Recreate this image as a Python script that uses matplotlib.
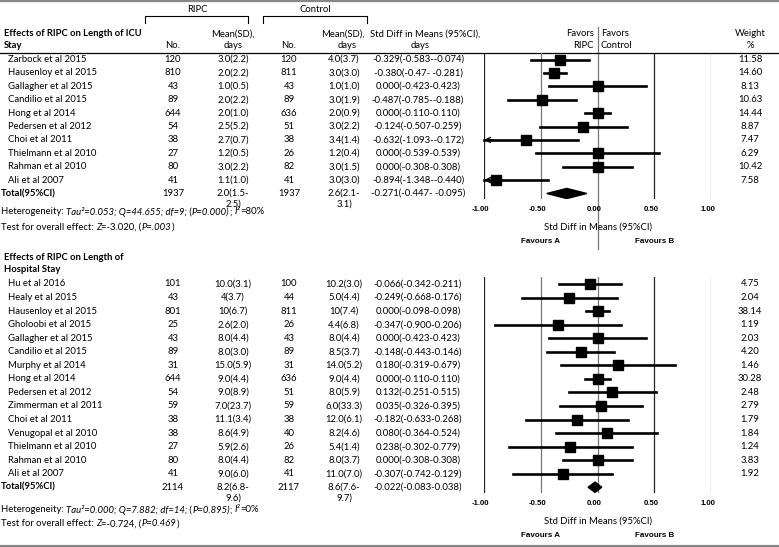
import numpy as np
import matplotlib
matplotlib.use("Agg")
import matplotlib.pyplot as plt
import matplotlib.transforms as mtransforms
from matplotlib import font_manager
from matplotlib.patches import Polygon

# ---- ICU stay ----
icu_study = ["Zarbock et al 2015", "Hausenloy et al 2015", "Gallagher et al 2015",
             "Candilio et al 2015", "Hong et al 2014", "Pedersen et al 2012",
             "Choi et al 2011", "Thielmann et al 2010", "Rahman et al 2010", "Ali et al 2007"]
icu_ripc_n = ["120", "810", "43", "89", "644", "54", "38", "27", "80", "41", "1937"]
icu_ripc_mean = ["3.0(2.2)", "2.0(2.2)", "1.0(0.5)", "2.0(2.2)", "2.0(1.0)", "2.5(5.2)",
                 "2.7(0.7)", "1.2(0.5)", "3.0(2.2)", "1.1(1.0)", "2.0(1.5-\n2.5)"]
icu_ctrl_n = ["120", "811", "43", "89", "636", "51", "38", "26", "82", "41", "1937"]
icu_ctrl_mean = ["4.0(3.7)", "3.0(3.0)", "1.0(1.0)", "3.0(1.9)", "2.0(0.9)", "3.0(2.2)",
                 "3.4(1.4)", "1.2(0.4)", "3.0(1.5)", "3.0(3.0)", "2.6(2.1-\n3.1)"]
icu_ci_txt = ["-0.329(-0.583--0.074)", "-0.380(-0.47- -0.281)", "0.000(-0.423-0.423)",
              "-0.487(-0.785--0.188)", "0.000(-0.110-0.110)", "-0.124(-0.507-0.259)",
              "-0.632(-1.093--0.172)", "0.000(-0.539-0.539)", "0.000(-0.308-0.308)",
              "-0.894(-1.348--0.440)", "-0.271(-0.447- -0.095)"]
icu_weight = ["11.58", "14.60", "8.13", "10.63", "14.44", "8.87", "7.47", "6.29", "10.42", "7.58"]
icu_est = [-0.329, -0.380, 0.0, -0.487, 0.0, -0.124, -0.632, 0.0, 0.0, -0.894]
icu_lo = [-0.583, -0.47, -0.423, -0.785, -0.110, -0.507, -1.093, -0.539, -0.308, -1.348]
icu_hi = [-0.074, -0.281, 0.423, -0.188, 0.110, 0.259, -0.172, 0.539, 0.308, -0.440]
icu_total = (-0.271, -0.447, -0.095)

# ---- Hospital stay ----
hos_study = ["Hu et al 2016", "Healy et al 2015", "Hausenloy et al 2015", "Gholoobi et al 2015",
             "Gallagher et al 2015", "Candilio et al 2015", "Murphy et al 2014", "Hong et al 2014",
             "Pedersen et al 2012", "Zimmerman et al 2011", "Choi et al 2011",
             "Venugopal et al 2010", "Thielmann et al 2010", "Rahman et al 2010", "Ali et al 2007"]
hos_ripc_n = ["101", "43", "801", "25", "43", "89", "31", "644", "54", "59", "38", "38", "27",
              "80", "41", "2114"]
hos_ripc_mean = ["10.0(3.1)", "4(3.7)", "10(6.7)", "2.6(2.0)", "8.0(4.4)", "8.0(3.0)",
                 "15.0(5.9)", "9.0(4.4)", "9.0(8.9)", "7.0(23.7)", "11.1(3.4)", "8.6(4.9)",
                 "5.9(2.6)", "8.0(4.4)", "9.0(6.0)", "8.2(6.8-\n9.6)"]
hos_ctrl_n = ["100", "44", "811", "26", "43", "89", "31", "636", "51", "59", "38", "40", "26",
              "82", "41", "2117"]
hos_ctrl_mean = ["10.2(3.0)", "5.0(4.4)", "10(7.4)", "4.4(6.8)", "8.0(4.4)", "8.5(3.7)",
                 "14.0(5.2)", "9.0(4.4)", "8.0(5.9)", "6.0(33.3)", "12.0(6.1)", "8.2(4.6)",
                 "5.4(1.4)", "8.0(3.7)", "11.0(7.0)", "8.6(7.6-\n9.7)"]
hos_ci_txt = ["-0.066(-0.342-0.211)", "-0.249(-0.668-0.176)", "0.000(-0.098-0.098)",
              "-0.347(-0.900-0.206)", "0.000(-0.423-0.423)", "-0.148(-0.443-0.146)",
              "0.180(-0.319-0.679)", "0.000(-0.110-0.110)", "0.132(-0.251-0.515)",
              "0.035(-0.326-0.395)", "-0.182(-0.633-0.268)", "0.080(-0.364-0.524)",
              "0.238(-0.302-0.779)", "0.000(-0.308-0.308)", "-0.307(-0.742-0.129)",
              "-0.022(-0.083-0.038)"]
hos_weight = ["4.75", "2.04", "38.14", "1.19", "2.03", "4.20", "1.46", "30.28", "2.48", "2.79",
              "1.79", "1.84", "1.24", "3.83", "1.92"]
# as drawn in the figure (Thielmann point is plotted on the negative side)
hos_est = [-0.066, -0.249, 0.0, -0.347, 0.0, -0.148, 0.180, 0.0, 0.132, 0.035, -0.182, 0.080,
           -0.238, 0.0, -0.307]
hos_lo = [-0.342, -0.668, -0.098, -0.900, -0.423, -0.443, -0.319, -0.110, -0.251, -0.326,
          -0.633, -0.364, -0.779, -0.308, -0.742]
hos_hi = [0.211, 0.176, 0.098, 0.206, 0.423, 0.146, 0.679, 0.110, 0.515, 0.395, 0.268, 0.524,
          0.302, 0.308, 0.129]
hos_total = (-0.022, -0.083, 0.038)

ticks = [-1.0, -0.5, 0.0, 0.5, 1.0]
tick_labels = ["-1.00", "-0.50", "0.00", "0.50", "1.00"]
grid_colors = ["#222222", "#777777", "#777777", "#222222", "#777777"]

W, H = 779, 547
plt.rcParams['font.family'] = ['Lato', 'DejaVu Sans']
FS = 6.8
names = {f.name for f in font_manager.fontManager.ttflist}
narrow = 'Liberation Sans Narrow' if 'Liberation Sans Narrow' in names else 'Liberation Sans'

fig = plt.figure(figsize=(W / 100, H / 100), dpi=100)
tax = fig.add_axes([0, 0, 1, 1])
tax.set_xlim(0, W)
tax.set_ylim(H, 0)
tax.axis('off')
renderer = fig.canvas.get_renderer()

X_L, X_R = 484, 711  # pixel positions of -1 and +1


def seg_width(s, style):
    a = tax.text(0, 0, s + "|", fontsize=FS, style=style)
    b = tax.text(0, 0, "|", fontsize=FS, style=style)
    w = a.get_window_extent(renderer).width - b.get_window_extent(renderer).width
    a.remove()
    b.remove()
    return w


def rich(x, y, parts):
    for s, style in parts:
        tax.text(x, y, s, fontsize=FS, style=style, va='center', ha='left')
        x += seg_width(s, style)


def txt(x, y, s, ha='center', **kw):
    lines = s.split("\n")
    for k, line in enumerate(lines):
        tax.text(x, y + 11 * k, line, fontsize=FS, ha=ha, va='center', **kw)


def forest(y_first, pitch, est, lo, hi, total, center_span=None):
    n = len(est) + 1
    top = y_first - 0.5 * pitch
    bottom = y_first + (n - 1 + 0.4) * pitch
    ax = fig.add_axes([X_L / W, 1 - bottom / H, (X_R - X_L) / W, (bottom - top) / H])
    ax.set_xlim(-1, 1)
    ax.set_ylim(n - 1 + 0.4, -0.5)
    ax.axis('off')
    for v, c in zip(ticks, grid_colors):
        if v == 0 and center_span is not None:
            continue
        ax.axvline(v, color=c, lw=0.9, zorder=1)
    rows = np.arange(len(est))
    for r, e, l, h in zip(rows, est, lo, hi):
        if l < -1:
            ax.plot([-1, h], [r, r], color='k', lw=1.9, clip_on=False, zorder=3)
            ax.annotate('', xy=(-1.0, r), xytext=(-0.93, r),
                        arrowprops=dict(arrowstyle='->', lw=1.0, color='k',
                                        shrinkA=0, shrinkB=0, mutation_scale=9))
        else:
            ax.plot([l, h], [r, r], color='k', lw=1.9, clip_on=False, zorder=3)
    ax.plot(est, rows, 's', ms=6.8, color='k', zorder=4, clip_on=False)
    e, l, h = total
    yt = n - 1
    ax.add_patch(Polygon([(l, yt), (e, yt - 0.38), (h, yt), (e, yt + 0.38)],
                         closed=True, color='k', zorder=4))
    trans = mtransforms.blended_transform_factory(ax.transData, tax.transData)
    if center_span is not None:
        tax.plot([0, 0], center_span, color='#777777', lw=0.9, transform=trans, zorder=1)
    yb = bottom
    for v, lab in zip(ticks, tick_labels):
        tax.text(v - 0.03, yb + 11, lab, transform=trans, fontsize=5.6, fontweight='bold',
                 family=narrow, ha='center', va='center')
    tax.text(0, yb + 28, "Std Diff in Means (95%CI)", transform=trans, fontsize=FS,
             ha='center', va='center')
    tax.text(-0.5, yb + 43, "Favours A", transform=trans, fontsize=5.8, fontweight='bold',
             family=narrow, ha='center', va='center')
    tax.text(0.5, yb + 43, "Favours B", transform=trans, fontsize=5.8, fontweight='bold',
             family=narrow, ha='center', va='center')
    return ax


# frame lines
tax.plot([0, W], [1, 1], color='#888888', lw=1.6)
tax.plot([0, W], [545.5, 545.5], color='#888888', lw=1.6)
tax.plot([0, W], [53, 53], color='k', lw=0.9)

# group header brackets
tax.plot([145, 145, 248, 248], [23, 16, 16, 23], color='k', lw=0.8)
tax.plot([263, 263, 367, 367], [23, 16, 16, 23], color='k', lw=0.8)
txt(197, 9, "RIPC")
txt(315, 9, "Control")

# column headers
tax.text(4, 34, "Effects of RIPC on Length of ICU", fontsize=FS, fontweight='bold', va='center')
tax.text(4, 46, "Stay", fontsize=FS, fontweight='bold', va='center')
txt(173, 46, "No.")
txt(233, 34, "Mean(SD),")
txt(233, 46, "days")
txt(289, 46, "No.")
txt(343, 34, "Mean(SD),")
txt(347, 46, "days")
tax.text(370, 34, "Std Diff in Means (95%CI),", fontsize=FS, va='center')
txt(420, 46, "days")
txt(594, 34, "Favors", ha='right')
txt(594, 45, "RIPC", ha='right')
txt(601, 34, "Favors", ha='left')
txt(601, 45, "Control", ha='left')
txt(750, 34, "Weight")
txt(750, 45, "%")


def table(y_first, pitch, study, rn, rm, cn, cm, ci, wt):
    for i, s in enumerate(study):
        y = y_first + i * pitch
        tax.text(8, y, s, fontsize=FS, va='center')
        txt(750, y, wt[i])
    yt = y_first + len(study) * pitch
    tax.text(1, yt, "Total(95%CI)", fontsize=FS, fontweight='bold', va='center')
    for i in range(len(study) + 1):
        y = y_first + i * pitch
        txt(173, y, rn[i])
        txt(233, y, rm[i])
        txt(289, y, cn[i])
        txt(344, y, cm[i])
        txt(418, y, ci[i])


# ICU panel
y1, p1 = 59.5, 13.4
table(y1, p1, icu_study, icu_ripc_n, icu_ripc_mean, icu_ctrl_n, icu_ctrl_mean, icu_ci_txt,
      icu_weight)
forest(y1, p1, icu_est, icu_lo, icu_hi, icu_total, center_span=(27, 249))
rich(1, 212, [("Heterogeneity: ", 'normal'), ("Tau²=0.053; Q=44.655; df=9;", 'italic'),
              (" (", 'normal'), ("P=0.000)", 'italic'), ("; ", 'normal'), ("I²", 'italic'),
              ("=80%", 'normal')])
rich(1, 227, [("Test for overall effect: ", 'normal'), ("Z", 'italic'), ("=-3.020, (", 'normal'),
              ("P=.003", 'italic'), (")", 'normal')])

# Hospital panel
tax.text(4, 258, "Effects of RIPC on Length of", fontsize=FS, fontweight='bold', va='center')
tax.text(4, 270, "Hospital Stay", fontsize=FS, fontweight='bold', va='center')
y2, p2 = 284, 13.55
table(y2, p2, hos_study, hos_ripc_n, hos_ripc_mean, hos_ctrl_n, hos_ctrl_mean, hos_ci_txt,
      hos_weight)
forest(y2, p2, hos_est, hos_lo, hos_hi, hos_total)
rich(1, 510, [("Heterogeneity: ", 'normal'), ("Tau²=0.000; Q=7.882; df=14;", 'italic'),
              (" (", 'normal'), ("P=0.895)", 'italic'), ("; ", 'normal'), ("I²", 'italic'),
              ("=0%", 'normal')])
rich(1, 524, [("Test for overall effect: ", 'normal'), ("Z", 'italic'), ("=-0.724, (", 'normal'),
              ("P=0.469", 'italic'), (")", 'normal')])

fig.savefig("out.png", dpi=100)
